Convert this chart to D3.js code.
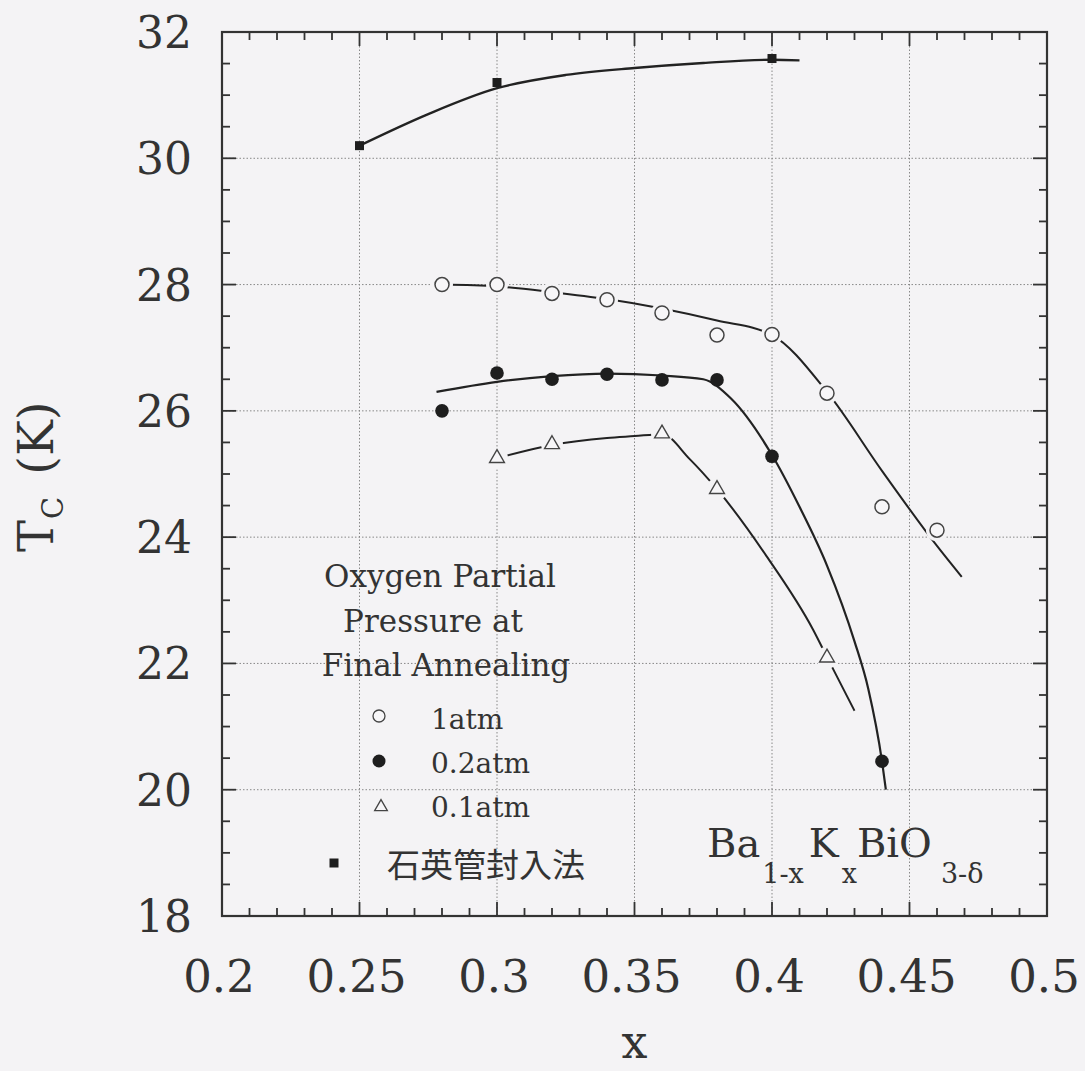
<!DOCTYPE html>
<html><head><meta charset="utf-8">
<script src="https://cdn.jsdelivr.net/npm/d3@7"></script>
<style>
html,body{margin:0;padding:0;background:#f4f3f5;}
svg{display:block;}
text{font-family:"DejaVu Serif",serif;fill:#333;}
</style></head>
<body>
<svg id="chart" width="1085" height="1071"></svg>
<script>
// ---- data ----
const xTicks = [0.2, 0.25, 0.3, 0.35, 0.4, 0.45, 0.5];
const xTickLabels = ["0.2", "0.25", "0.3", "0.35", "0.4", "0.45", "0.5"];
const yTicks = [18, 20, 22, 24, 26, 28, 30, 32];
const yTickLabels = ["18", "20", "22", "24", "26", "28", "30", "32"];

// measured points
const atm1 = [[0.28,28.0],[0.30,28.0],[0.32,27.86],[0.34,27.76],[0.36,27.55],[0.38,27.2],[0.40,27.21],[0.42,26.28],[0.44,24.48],[0.46,24.11]];
const atm02 = [[0.28,26.0],[0.30,26.6],[0.32,26.5],[0.34,26.58],[0.36,26.49],[0.38,26.49],[0.40,25.28],[0.44,20.45]];
const atm01 = [[0.30,25.25],[0.32,25.47],[0.36,25.64],[0.38,24.76],[0.42,22.09]];
const quartz = [[0.25,30.2],[0.30,31.2],[0.40,31.58]];

// fitted guide curves
const fit1 = [[0.28,28.0],[0.30,27.97],[0.32,27.88],[0.34,27.77],[0.36,27.62],[0.38,27.43],[0.40,27.2],[0.42,26.3],[0.44,25.05],[0.46,23.86],[0.469,23.37]];
const fit02 = [[0.278,26.3],[0.30,26.46],[0.32,26.55],[0.34,26.59],[0.36,26.56],[0.375,26.5],[0.385,26.2],[0.40,25.3],[0.41,24.48],[0.42,23.55],[0.43,22.35],[0.435,21.6],[0.44,20.45],[0.4414,20.0]];
const fit01 = [[0.30,25.25],[0.32,25.46],[0.34,25.57],[0.35,25.6],[0.36,25.63],[0.37,25.24],[0.38,24.76],[0.398,23.7],[0.415,22.53],[0.42,22.1],[0.43,21.25]];
const fitQ = [[0.25,30.2],[0.275,30.7],[0.30,31.11],[0.325,31.32],[0.35,31.43],[0.375,31.51],[0.40,31.56],[0.41,31.55]];

const legendTitle = ["Oxygen Partial", "Pressure at", "Final Annealing"];
const legendLabels = ["1atm", "0.2atm", "0.1atm", "石英管封入法"];

// ---- layout ----
const svg = d3.select("#chart");
const W = 1085, H = 1071;
const m = {left: 222, right: 1047, top: 32, bottom: 916};
const bg = "#f4f3f5";
svg.append("rect").attr("width", W).attr("height", H).attr("fill", bg);

const x = d3.scaleLinear().domain([0.2, 0.5]).range([m.left, m.right]);
const y = d3.scaleLinear().domain([18, 32]).range([m.bottom, m.top]);

// grid
const g = svg.append("g");
g.selectAll(".gx").data(xTicks.slice(1, -1)).join("line")
  .attr("x1", d => x(d)).attr("x2", d => x(d)).attr("y1", m.top).attr("y2", m.bottom)
  .attr("stroke", "#888").attr("stroke-width", 1).attr("stroke-dasharray", "1.5,2");
g.selectAll(".gy").data(yTicks.slice(1, -1)).join("line")
  .attr("y1", d => y(d)).attr("y2", d => y(d)).attr("x1", m.left).attr("x2", m.right)
  .attr("stroke", "#888").attr("stroke-width", 1).attr("stroke-dasharray", "1.5,2");

// curves
const line = d3.line().x(d => x(d[0])).y(d => y(d[1])).curve(d3.curveMonotoneX);
svg.append("path").attr("d", line(fitQ)).attr("fill", "none").attr("stroke", "#222").attr("stroke-width", 2.4);
svg.append("path").attr("d", line(fit1)).attr("fill", "none").attr("stroke", "#222").attr("stroke-width", 2);
svg.append("path").attr("d", line(fit02)).attr("fill", "none").attr("stroke", "#222").attr("stroke-width", 2.2);
svg.append("path").attr("d", line(fit01)).attr("fill", "none").attr("stroke", "#222").attr("stroke-width", 2);

// halos (gaps around open markers)
svg.selectAll(".h1").data(atm1).join("circle")
  .attr("cx", d => x(d[0])).attr("cy", d => y(d[1])).attr("r", 11).attr("fill", bg);
svg.selectAll(".h01").data(atm01).join("circle")
  .attr("cx", d => x(d[0])).attr("cy", d => y(d[1])).attr("r", 11).attr("fill", bg);

// markers
svg.selectAll(".m1").data(atm1).join("circle")
  .attr("cx", d => x(d[0])).attr("cy", d => y(d[1])).attr("r", 7)
  .attr("fill", "#f7f6f8").attr("stroke", "#444").attr("stroke-width", 1.5);
svg.selectAll(".m02").data(atm02).join("circle")
  .attr("cx", d => x(d[0])).attr("cy", d => y(d[1])).attr("r", 6.8)
  .attr("fill", "#1e1e1e");
const tri = d3.symbol().type(d3.symbolTriangle).size(95);
svg.selectAll(".m01").data(atm01).join("path")
  .attr("d", tri).attr("transform", d => `translate(${x(d[0])},${y(d[1])})`)
  .attr("fill", "#f7f6f8").attr("stroke", "#444").attr("stroke-width", 1.4);
svg.selectAll(".mq").data(quartz).join("rect")
  .attr("x", d => x(d[0]) - 4.5).attr("y", d => y(d[1]) - 4.5).attr("width", 9).attr("height", 9)
  .attr("fill", "#1e1e1e");

// axes frame + ticks (inward on all sides)
const ax = svg.append("g");
const xMinor = d3.range(20, 51).map(v => v / 100);
const yMinor = d3.range(36, 65).map(v => v / 2);
const isMajX = v => Math.abs(v * 20 - Math.round(v * 20)) < 1e-6;
const isMajY = v => v % 2 === 0;
const tc = "#333";
xMinor.forEach(v => {
  const L = isMajX(v) ? 14 : 8;
  ax.append("line").attr("x1", x(v)).attr("x2", x(v)).attr("y1", m.bottom).attr("y2", m.bottom - L).attr("stroke", tc).attr("stroke-width", 1.8);
  ax.append("line").attr("x1", x(v)).attr("x2", x(v)).attr("y1", m.top).attr("y2", m.top + L).attr("stroke", tc).attr("stroke-width", 1.8);
});
yMinor.forEach(v => {
  const L = isMajY(v) ? 14 : 8;
  ax.append("line").attr("y1", y(v)).attr("y2", y(v)).attr("x1", m.left).attr("x2", m.left + L).attr("stroke", tc).attr("stroke-width", 1.8);
  ax.append("line").attr("y1", y(v)).attr("y2", y(v)).attr("x1", m.right).attr("x2", m.right - L).attr("stroke", tc).attr("stroke-width", 1.8);
});
ax.append("rect").attr("x", m.left).attr("y", m.top).attr("width", m.right - m.left).attr("height", m.bottom - m.top)
  .attr("fill", "none").attr("stroke", tc).attr("stroke-width", 2.2);

// tick labels
svg.selectAll(".xl").data(xTicks).join("text")
  .attr("x", d => x(d) - 3).attr("y", 992).attr("text-anchor", "middle")
  .attr("font-size", 45).text((d, i) => xTickLabels[i]);
svg.selectAll(".yl").data(yTicks).join("text")
  .attr("x", 192).attr("y", d => y(d) + 16).attr("text-anchor", "end")
  .attr("font-size", 44).text((d, i) => yTickLabels[i]);

// axis titles
svg.append("text").attr("x", x(0.35)).attr("y", 1058).attr("text-anchor", "middle")
  .attr("font-size", 46).text("x");
const yt = svg.append("text").attr("transform", "translate(53,552) rotate(-90)").attr("font-size", 48);
yt.append("tspan").text("T");
yt.append("tspan").attr("font-size", 29).attr("dy", 10).attr("dx", 1).text("C");
yt.append("tspan").attr("dy", -10).attr("dx", 22).text("(K)");

// legend
svg.selectAll(".lt").data(legendTitle).join("text")
  .attr("x", (d, i) => [440, 433, 446][i]).attr("y", (d, i) => 587 + i * 44.5)
  .attr("text-anchor", "middle").attr("font-size", 31).text(d => d);
const ly = [716, 761, 807, 863];
const lb = [729, 773, 817, 877];
svg.append("circle").attr("cx", 379).attr("cy", ly[0]).attr("r", 6).attr("fill", "#f7f6f8").attr("stroke", "#444").attr("stroke-width", 1.3);
svg.append("circle").attr("cx", 379).attr("cy", ly[1]).attr("r", 6.5).attr("fill", "#1e1e1e");
svg.append("path").attr("d", d3.symbol().type(d3.symbolTriangle).size(70)).attr("transform", `translate(381,${ly[2]})`)
  .attr("fill", "#f7f6f8").attr("stroke", "#444").attr("stroke-width", 1.3);
svg.append("rect").attr("x", 334 - 4.5).attr("y", ly[3] - 4.5).attr("width", 9).attr("height", 9).attr("fill", "#1e1e1e");
legendLabels.forEach((t, i) => {
  const tx = svg.append("text").attr("x", i === 3 ? 387 : 431).attr("y", lb[i]).text(t);
  if (i === 3) tx.attr("font-size", 33).style("font-family", '"Noto Sans CJK JP", sans-serif');
  else tx.attr("font-size", 28);
});

// formula
const f = svg.append("text").attr("x", 707).attr("y", 857).attr("font-size", 40);
f.append("tspan").text("Ba");
f.append("tspan").attr("font-size", 27).attr("dy", 26).attr("dx", 2).text("1-x");
f.append("tspan").attr("dy", -26).attr("dx", 5).text("K");
f.append("tspan").attr("font-size", 27).attr("dy", 26).attr("dx", 3).text("x");
f.append("tspan").attr("dy", -26).attr("dx", 0).text("BiO");
f.append("tspan").attr("font-size", 27).attr("dy", 26).attr("dx", 9).text("3-δ");
</script>
</body></html>
